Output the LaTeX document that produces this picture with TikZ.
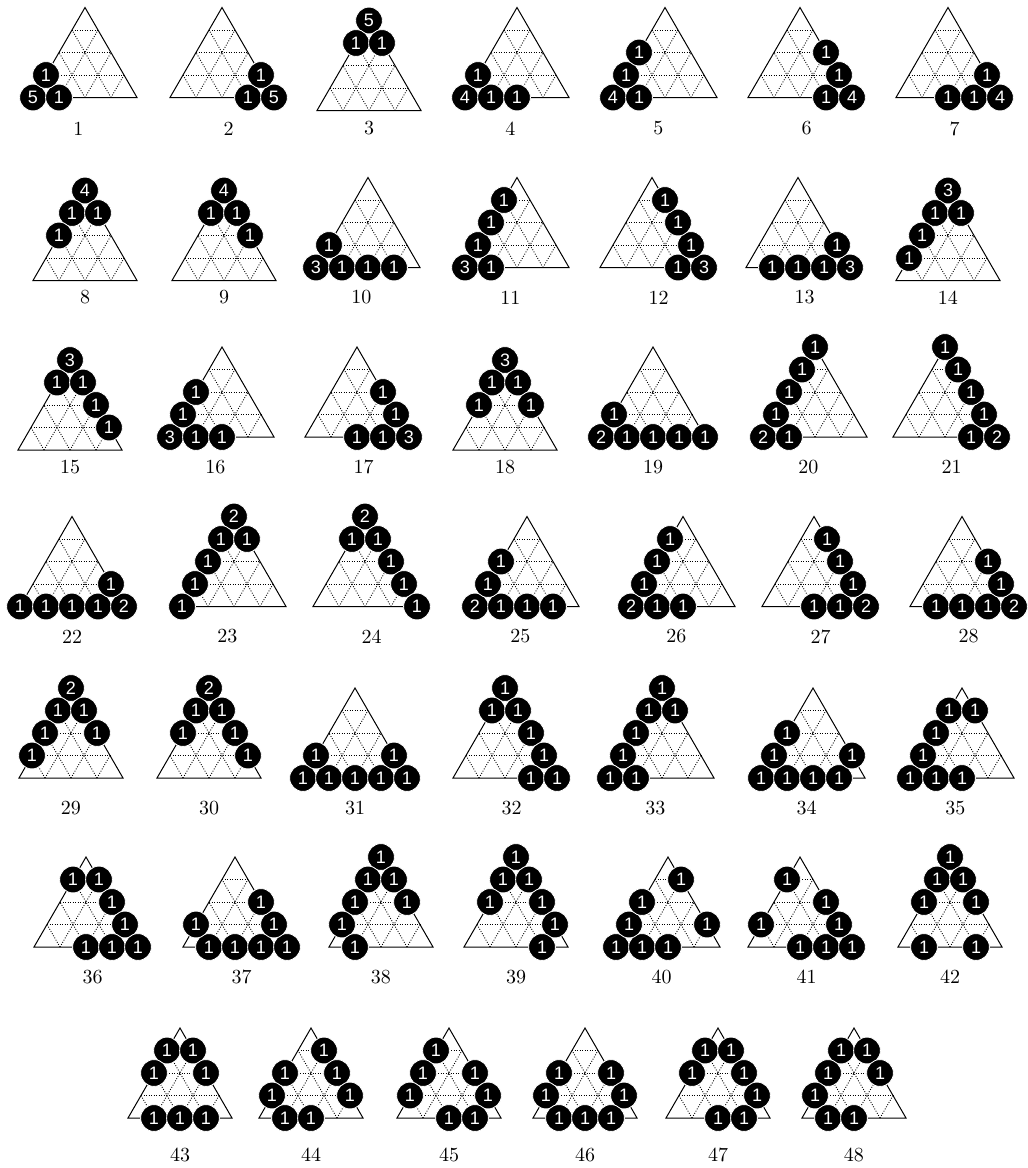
\documentclass[tikz,border=0pt]{standalone}
\usepackage{fontspec}
\newfontfamily\discfont{Liberation Sans}
\tikzset{
  tri/.style={line width=0.5pt},
  gridl/.style={line width=0.45pt, dash pattern=on 0.45pt off 0.8pt, black},
  disc/.style={circle, fill=black, draw=white, line width=0.4pt, minimum size=13.4pt, inner sep=0pt, text=white, font=\discfont\fontsize{9}{9}\selectfont},
  lbl/.style={font=\fontsize{10}{12}\selectfont, inner sep=0pt}
}
\newcommand\panel[5]{%
\begin{scope}[shift={(#2-52,#3)},local bounding box=p#1]
\foreach \k in {1,2,3}{
 \draw[gridl] (13*\k,-22.5*\k) -- (104-13*\k,-22.5*\k);
 \draw[gridl] (26*\k,0) -- (13*\k,-22.5*\k);
 \draw[gridl] (26*\k,0) -- (52+13*\k,-90+22.5*\k);
}
\draw[tri] (0,0) -- (104,0) -- (52,-90) -- cycle;
\foreach \a/\b/\n [count=\c] in {#4}
 \node[disc] (p#1c\c) at (26*\a+13*\b,-22.5*\b) {\n};
\end{scope}
\node[lbl] (p#1lab) at (p#1.south |- #5) {#1};
}
\begin{document}
\begin{tikzpicture}[x=0.5pt,y=-0.5pt]
\path (0,0) rectangle (1028,1168);
\coordinate (r1) at (0,128.5);
\coordinate (r2) at (0,297.5);
\coordinate (r3) at (0,467);
\coordinate (r4) at (0,636.5);
\coordinate (r5) at (0,808);
\coordinate (r6) at (0,977);
\coordinate (r7) at (0,1155);
% row 1
\panel{1}{85}{97.5}{0/0/5,1/0/1,0/1/1}{r1}
\panel{2}{222}{97.5}{3/0/1,4/0/5,3/1/1}{r1}
\panel{3}{369}{110.5}{0/4/5,0/3/1,1/3/1}{r1}
\panel{4}{517}{97.5}{0/0/4,1/0/1,2/0/1,0/1/1}{r1}
\panel{5}{665}{97.5}{0/0/4,1/0/1,0/1/1,0/2/1}{r1}
\panel{6}{800}{97.5}{3/0/1,4/0/4,3/1/1,2/2/1}{r1}
\panel{7}{948}{97.5}{2/0/1,3/0/1,4/0/4,3/1/1}{r1}
% row 2
\panel{8}{85}{280.5}{0/4/4,0/3/1,1/3/1,0/2/1}{r2}
\panel{9}{224}{280.5}{0/4/4,0/3/1,1/3/1,2/2/1}{r2}
\panel{10}{368}{267.5}{0/0/3,1/0/1,2/0/1,3/0/1,0/1/1}{r2}
\panel{11}{517}{267.5}{0/0/3,1/0/1,0/1/1,0/2/1,0/3/1}{r2}
\panel{12}{652}{267.5}{3/0/1,4/0/3,3/1/1,2/2/1,1/3/1}{r2}
\panel{13}{798}{267.5}{1/0/1,2/0/1,3/0/1,4/0/3,3/1/1}{r2}
\panel{14}{948}{280.5}{0/4/3,0/3/1,1/3/1,0/2/1,0/1/1}{r2}
% row 3
\panel{15}{70}{450}{0/4/3,0/3/1,1/3/1,2/2/1,3/1/1}{r3}
\panel{16}{222}{437}{0/0/3,1/0/1,2/0/1,0/1/1,0/2/1}{r3}
\panel{17}{357}{437}{2/0/1,3/0/1,4/0/3,3/1/1,2/2/1}{r3}
\panel{18}{505}{450}{0/4/3,0/3/1,1/3/1,0/2/1,2/2/1}{r3}
\panel{19}{653}{437}{0/0/2,1/0/1,2/0/1,3/0/1,4/0/1,0/1/1}{r3}
\panel{20}{815}{437}{0/0/2,1/0/1,0/1/1,0/2/1,0/3/1,0/4/1}{r3}
\panel{21}{945}{437}{3/0/1,4/0/2,3/1/1,2/2/1,1/3/1,0/4/1}{r3}
% row 4
\panel{22}{72}{606.5}{0/0/1,1/0/1,2/0/1,3/0/1,4/0/2,3/1/1}{r4}
\panel{23}{234}{606.5}{0/4/2,0/3/1,1/3/1,0/2/1,0/1/1,0/0/1}{r4}
\panel{24}{365}{606.5}{0/4/2,0/3/1,1/3/1,2/2/1,3/1/1,4/0/1}{r4}
\panel{25}{527}{606.5}{0/0/2,1/0/1,2/0/1,3/0/1,0/1/1,0/2/1}{r4}
\panel{26}{683}{606.5}{0/0/2,1/0/1,2/0/1,0/1/1,0/2/1,0/3/1}{r4}
\panel{27}{814}{606.5}{2/0/1,3/0/1,4/0/2,3/1/1,2/2/1,1/3/1}{r4}
\panel{28}{962}{606.5}{1/0/1,2/0/1,3/0/1,4/0/2,3/1/1,2/2/1}{r4}
% row 5
\panel{29}{71}{778}{0/4/2,0/3/1,1/3/1,0/2/1,2/2/1,0/1/1}{r5}
\panel{30}{209}{778}{0/4/2,0/3/1,1/3/1,0/2/1,2/2/1,3/1/1}{r5}
\panel{31}{355}{778}{0/0/1,1/0/1,2/0/1,3/0/1,4/0/1,0/1/1,3/1/1}{r5}
\panel{32}{505}{778}{0/4/1,0/3/1,1/3/1,2/2/1,3/1/1,3/0/1,4/0/1}{r5}
\panel{33}{662}{778}{0/4/1,0/3/1,1/3/1,0/2/1,0/1/1,0/0/1,1/0/1}{r5}
\panel{34}{813}{778}{0/0/1,1/0/1,2/0/1,3/0/1,0/1/1,3/1/1,0/2/1}{r5}
\panel{35}{962}{778}{0/0/1,1/0/1,2/0/1,0/1/1,0/2/1,0/3/1,1/3/1}{r5}
% row 6
\panel{36}{86}{947}{0/3/1,1/3/1,2/2/1,3/1/1,2/0/1,3/0/1,4/0/1}{r6}
\panel{37}{235}{947}{1/0/1,2/0/1,3/0/1,4/0/1,0/1/1,3/1/1,2/2/1}{r6}
\panel{38}{381}{947}{0/4/1,0/3/1,1/3/1,0/2/1,2/2/1,0/1/1,1/0/1}{r6}
\panel{39}{516}{947}{0/4/1,0/3/1,1/3/1,0/2/1,2/2/1,3/1/1,3/0/1}{r6}
\panel{40}{668}{947}{0/0/1,1/0/1,2/0/1,0/1/1,3/1/1,0/2/1,1/3/1}{r6}
\panel{41}{800}{947}{2/0/1,3/0/1,4/0/1,0/1/1,3/1/1,2/2/1,0/3/1}{r6}
\panel{42}{950}{947}{0/4/1,0/3/1,1/3/1,0/2/1,2/2/1,1/0/1,3/0/1}{r6}
% row 7
\panel{43}{180}{1118}{0/3/1,1/3/1,0/2/1,2/2/1,1/0/1,2/0/1,3/0/1}{r7}
\panel{44}{311}{1118}{1/3/1,0/2/1,2/2/1,0/1/1,3/1/1,1/0/1,2/0/1}{r7}
\panel{45}{449}{1118}{0/3/1,0/2/1,2/2/1,0/1/1,3/1/1,2/0/1,3/0/1}{r7}
\panel{46}{585}{1118}{0/2/1,2/2/1,0/1/1,3/1/1,1/0/1,2/0/1,3/0/1}{r7}
\panel{47}{718}{1118}{0/3/1,1/3/1,0/2/1,2/2/1,3/1/1,2/0/1,3/0/1}{r7}
\panel{48}{854}{1118}{0/3/1,1/3/1,0/2/1,2/2/1,0/1/1,1/0/1,2/0/1}{r7}
\end{tikzpicture}
\end{document}
